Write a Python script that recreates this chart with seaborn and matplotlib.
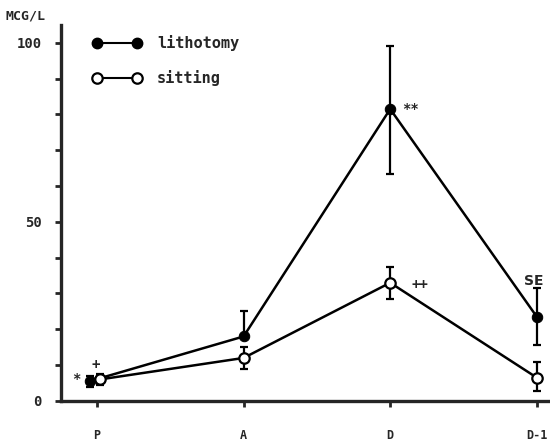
import numpy as np
import pandas as pd
import matplotlib
matplotlib.use("Agg")
import matplotlib.pyplot as plt
import seaborn as sns

# 데이터
stages = ["P", "A", "D", "D-1"]
litho_x = [-0.05, 1, 2, 3]
litho_y = [5.5, 18, 81.5, 23.5]
litho_err_lo = [1.5, 0, 18, 8]
litho_err_hi = [1.5, 7, 17.5, 8]
sit_x = [0.02, 1, 2, 3]
sit_y = [6, 12, 33, 6.5]
sit_err_lo = [1.5, 3, 4.5, 3.7]
sit_err_hi = [1.5, 3, 4.5, 4.3]

df = pd.DataFrame({
    "x": litho_x + sit_x,
    "y": litho_y + sit_y,
    "group": ["lithotomy"] * 4 + ["sitting"] * 4,
})

sns.set_style("ticks")
plt.rcParams["font.family"] = ["DejaVu Sans Mono"]
plt.rcParams["font.weight"] = "bold"

fig = plt.figure(figsize=(5.5, 4.44), dpi=100)
ax = fig.add_axes([0.111, 0.097, 0.885, 0.847])

sns.lineplot(data=df[df.group == "lithotomy"], x="x", y="y", ax=ax, color="black",
             lw=1.8, marker="o", markersize=7.5, markerfacecolor="black",
             markeredgecolor="black", sort=False, estimator=None)
sns.lineplot(data=df[df.group == "sitting"], x="x", y="y", ax=ax, color="black",
             lw=1.8, marker="o", markersize=7.5, markerfacecolor="white",
             markeredgecolor="black", markeredgewidth=1.6, sort=False, estimator=None)

ax.errorbar(litho_x, litho_y, yerr=[litho_err_lo, litho_err_hi], fmt="none",
            ecolor="black", elinewidth=1.6, capsize=3, capthick=1.6, zorder=1)
ax.errorbar(sit_x, sit_y, yerr=[sit_err_lo, sit_err_hi], fmt="none",
            ecolor="black", elinewidth=1.6, capsize=3, capthick=1.6, zorder=1)

ax.set_xlim(-0.245, 3.075)
ax.set_ylim(0, 105)
ax.set_xticks(range(len(stages)))
ax.set_xticklabels(stages, fontsize=8.5)
ax.set_yticks(np.arange(0, 101, 10))
ax.set_yticklabels(["0", "", "", "", "", "50", "", "", "", "", "100"], fontsize=10)
ax.tick_params(axis="both", width=2, length=4)
ax.tick_params(axis="x", pad=16)
ax.tick_params(axis="y", pad=10)
for s in ["top", "right"]:
    ax.spines[s].set_visible(False)
ax.spines["left"].set_linewidth(2.4)
ax.spines["bottom"].set_linewidth(2.4)
ax.set_xlabel("")
ax.set_ylabel("")

# 범례 (수동)
ax.plot([0, 0.27], [100, 100], color="black", lw=1.5, marker="o", markersize=7.5,
        markerfacecolor="black", clip_on=False)
ax.plot([0, 0.27], [90.3, 90.3], color="black", lw=1.5, marker="o", markersize=7.5,
        markerfacecolor="white", markeredgewidth=1.6, clip_on=False)
ax.text(0.41, 100, "lithotomy", fontsize=11, va="center")
ax.text(0.41, 90.3, "sitting", fontsize=11, va="center")

# 주석
ax.text(-0.14, 6, "*", fontsize=10, ha="center", va="center")
ax.text(-0.01, 10, "+", fontsize=10, ha="center", va="center")
ax.text(2.14, 81.5, "**", fontsize=10, ha="center", va="center")
ax.text(2.2, 32.5, "++", fontsize=10, ha="center", va="center")
ax.text(2.98, 33.5, "SE", fontsize=10, ha="center", va="center", family="DejaVu Sans")

fig.text(0.01, 0.965, "MCG/L", fontsize=9.5, ha="left", va="center")

fig.savefig("out.png", dpi=100)
